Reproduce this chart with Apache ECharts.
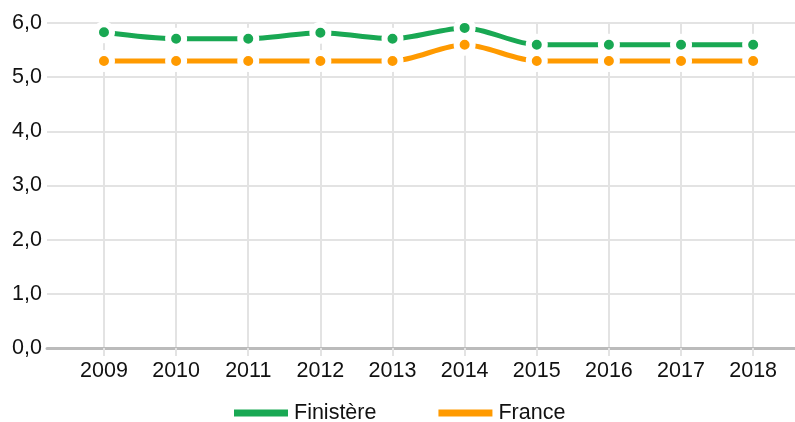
<!DOCTYPE html>
<html>
<head>
<meta charset="utf-8">
<script src="https://cdn.jsdelivr.net/npm/echarts@6/dist/echarts.min.js"></script>
<style>
  html, body { margin: 0; padding: 0; background: #fff; }
  #chart { width: 795px; height: 422px; }
</style>
</head>
<body>
<div id="chart"></div>
<script>
// données
let years = [2009, 2010, 2011, 2012, 2013, 2014, 2015, 2016, 2017, 2018]
let finistere = [5.83, 5.71, 5.71, 5.82, 5.71, 5.91, 5.6, 5.6, 5.6, 5.6]
let france = [5.3, 5.3, 5.3, 5.3, 5.3, 5.6, 5.3, 5.3, 5.3, 5.3]
let yTicks = [0, 1, 2, 3, 4, 5, 6]

let font = 'Liberation Sans, Arial, sans-serif'

let makeSeries = function (name, values, color) {
  return {
    type: 'line',
    name: name,
    smooth: 0.3,
    data: years.map((y, i) => [y, values[i]]),
    symbol: 'circle',
    symbolSize: 16,
    lineStyle: { color: color, width: 5 },
    itemStyle: { color: color, borderColor: '#fff', borderWidth: 6 }
  }
}

let chart = echarts.init(document.querySelector('#chart'))
chart.setOption({
  animation: false,
  grid: { left: 47, right: 0, top: 23, bottom: 74, containLabel: false },
  legend: {
    top: 402,
    left: 232,
    padding: 0,
    icon: 'rect',
    itemWidth: 56,
    itemHeight: 9,
    itemGap: 60,
    textStyle: { fontFamily: font, fontSize: 21.5, color: '#111' },
    data: ['Finistère', 'France']
  },
  xAxis: {
    type: 'value',
    min: 2008.21,
    max: 2018.58,
    axisLine: { show: true, onZero: false, lineStyle: { color: '#bbb', width: 3 } },
    axisTick: { show: true, customValues: years, length: 8, lineStyle: { color: '#e3e3e3', width: 2 } },
    axisLabel: {
      customValues: years,
      margin: 12,
      fontFamily: font,
      fontSize: 21.5,
      color: '#111',
      formatter: v => String(v)
    },
    splitLine: { show: true, lineStyle: { color: '#e3e3e3', width: 2 } }
  },
  yAxis: {
    type: 'value',
    min: 0,
    max: 6,
    interval: 1,
    axisLine: { show: false },
    axisTick: { show: false },
    axisLabel: {
      margin: 5,
      fontFamily: font,
      fontSize: 21.5,
      color: '#111',
      formatter: v => yTicks.indexOf(v) >= 0 ? v.toFixed(1).replace('.', ',') : ''
    },
    splitLine: { show: true, lineStyle: { color: '#e3e3e3', width: 2 } }
  },
  series: [
    makeSeries('Finistère', finistere, '#19a853'),
    makeSeries('France', france, '#ff9a00')
  ]
})
</script>
</body>
</html>
